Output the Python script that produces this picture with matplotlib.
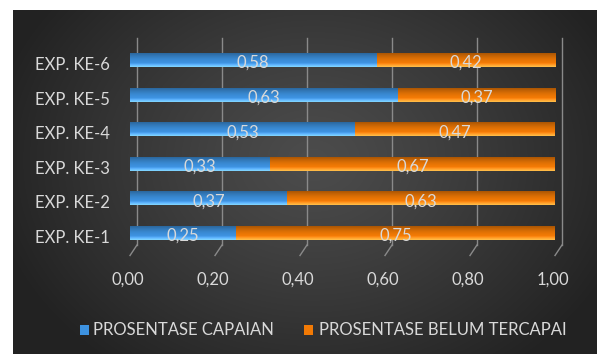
import numpy as np
import matplotlib
matplotlib.use("Agg")
import matplotlib.pyplot as plt
from matplotlib.patches import Rectangle
from matplotlib import transforms as mtransforms

# ---- data ----
categories = ["EXP. KE-1", "EXP. KE-2", "EXP. KE-3", "EXP. KE-4", "EXP. KE-5", "EXP. KE-6"]
capaian = [0.25, 0.37, 0.33, 0.53, 0.63, 0.58]
belum = [0.75, 0.63, 0.67, 0.47, 0.37, 0.42]
series_names = ["PROSENTASE CAPAIAN", "PROSENTASE BELUM TERCAPAI"]
xticks = [0.0, 0.2, 0.4, 0.6, 0.8, 1.0]
xtick_labels = ["0,00", "0,20", "0,40", "0,60", "0,80", "1,00"]

BLUE = "#3d92e0"
ORANGE = "#f27a05"
TEXT = "#d9d9d9"
GRID = "#8a8a8a"
FONT = ["Lato", "DejaVu Sans"]
FS = 12

W, H = 597, 354
DPI = 100
fig = plt.figure(figsize=(W / DPI, H / DPI), dpi=DPI, facecolor="white")

# ---- dark radial background panel ----
bg = fig.add_axes([13 / W, 0, (W - 13) / W, (H - 10) / H])
bg.set_axis_off()
ny, nx = 344, 584
yy, xx = np.mgrid[0:ny, 0:nx]
cx, cy = 300, 150
r = np.sqrt(((xx - cx) / 330.0) ** 2 + ((yy - cy) / 260.0) ** 2)
r = np.clip(r, 0, 1)
c_in, c_out = 0x4c / 255, 0x22 / 255
val = c_in + (c_out - c_in) * r ** 1.2
img = np.dstack([val, val, val])
bg.imshow(img, aspect="auto", extent=[0, 1, 0, 1], origin="upper")
bg.set_xlim(0, 1)
bg.set_ylim(0, 1)

# ---- plot area ----
left, right, top, bottom = 130, 555, 37.5, 255.5
ax = fig.add_axes([left / W, 1 - bottom / H, (right - left) / W, (bottom - top) / H])
ax.set_facecolor("none")
ax.set_xlim(0, 1)
ax.set_ylim(-0.65, 5.65)
for s in ax.spines.values():
    s.set_visible(False)
ax.set_xticks([])
ax.set_yticks([])

# back-wall gridlines, shifted right, each with a short diagonal foot
shift = mtransforms.ScaledTranslation(7 / DPI, 0, fig.dpi_scale_trans)
gtrans = mtransforms.blended_transform_factory(ax.transData, ax.transAxes)
y_wall_bottom = 1 - (245 - top) / (bottom - top)
for xv in xticks:
    ax.plot([xv, xv], [y_wall_bottom, 1.0], color=GRID, lw=1.0,
            transform=gtrans + shift, zorder=1, clip_on=False)
    p0 = gtrans.transform((xv, 0.0))
    p1 = (gtrans + shift).transform((xv, y_wall_bottom))
    fig.add_artist(plt.Line2D([p0[0] / W, p1[0] / W], [p0[1] / H, p1[1] / H],
                              color=GRID, lw=1.0, transform=fig.transFigure))

ypos = np.arange(len(categories))
bar_h = 0.40

b1 = ax.barh(ypos, capaian, height=bar_h, color=BLUE, zorder=3)
b2 = ax.barh(ypos, belum, left=capaian, height=bar_h, color=ORANGE, zorder=3)

# cylinder-like shading over each bar segment
grad = np.linspace(0, 1, 64)
shade = np.where(grad < 0.3, 0.28 * (1 - grad / 0.3), -0.30 * ((grad - 0.3) / 0.7) ** 1.5)
for bars in (b1, b2):
    for rect in bars:
        x0, y0 = rect.get_x(), rect.get_y()
        w, h = rect.get_width(), rect.get_height()
        base = np.array(matplotlib.colors.to_rgb(rect.get_facecolor()))
        cols = np.array([np.clip(base + s if s > 0 else base * (1 + s), 0, 1) for s in shade])
        im = ax.imshow(cols[:, None, :], aspect="auto",
                       extent=[x0, x0 + w, y0, y0 + h], origin="lower",
                       zorder=4, interpolation="bilinear")
        im.set_clip_path(rect)
ax.set_xlim(0, 1)
ax.set_ylim(-0.65, 5.65)

# value labels centred on each segment
down = mtransforms.ScaledTranslation(0, -3 / DPI, fig.dpi_scale_trans)
for i in range(len(categories)):
    ax.text(capaian[i] / 2, ypos[i], f"{capaian[i]:.2f}".replace(".", ","),
            ha="center", va="center", color=TEXT, fontsize=FS, family=FONT,
            zorder=6, transform=ax.transData + down)
    ax.text(capaian[i] + belum[i] / 2, ypos[i], f"{belum[i]:.2f}".replace(".", ","),
            ha="center", va="center", color=TEXT, fontsize=FS, family=FONT,
            zorder=6, transform=ax.transData + down)

# category labels
catshift = mtransforms.ScaledTranslation(-20 / DPI, -5 / DPI, fig.dpi_scale_trans)
ctrans = mtransforms.blended_transform_factory(ax.transAxes, ax.transData)
for i, c in enumerate(categories):
    ax.text(0, ypos[i], c, ha="right", va="center", color=TEXT, fontsize=FS,
            family=FONT, transform=ctrans + catshift)

# x tick labels
tshift = mtransforms.ScaledTranslation(-2 / DPI, -24.5 / DPI, fig.dpi_scale_trans)
for xv, lab in zip(xticks, xtick_labels):
    ax.text(xv, 0, lab, ha="center", va="center", color=TEXT, fontsize=FS,
            family=FONT, transform=gtrans + tshift)

# legend
ly = 330
for (mx, tx, col, name) in [(80, 93, BLUE, series_names[0]), (304, 319, ORANGE, series_names[1])]:
    fig.add_artist(Rectangle((mx / W, 1 - (ly + 5) / H), 9 / W, 10 / H,
                             transform=fig.transFigure, facecolor=col,
                             edgecolor="none"))
    fig.text(tx / W, 1 - ly / H, name, ha="left", va="center", color=TEXT,
             fontsize=FS, family=FONT)

fig.savefig("out.png", dpi=DPI, facecolor="white")
